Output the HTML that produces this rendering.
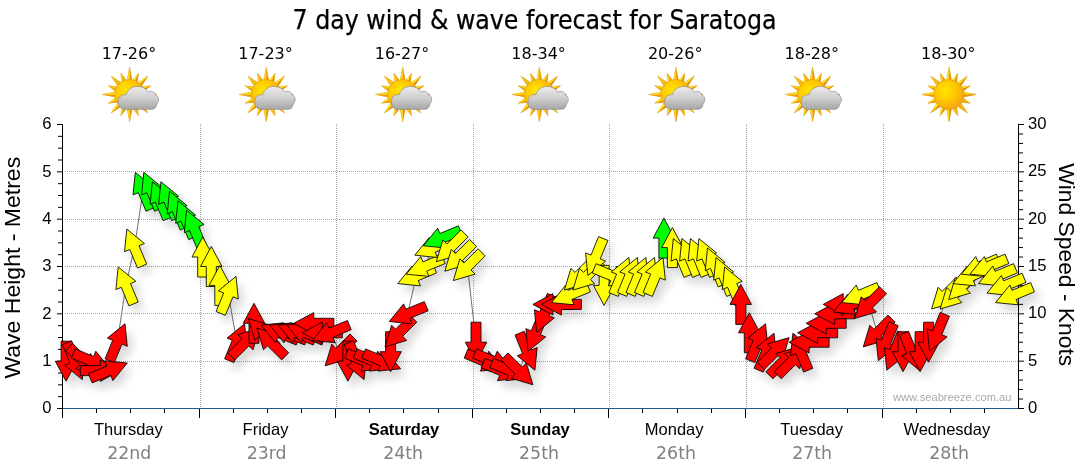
<!DOCTYPE html>
<html lang="en"><head><meta charset="utf-8"><title>7 day wind &amp; wave forecast for Saratoga</title>
<style>html,body{margin:0;padding:0;background:#fff;}body{width:1080px;height:475px;overflow:hidden;}svg{display:block;}.tah{font-family:"DejaVu Sans Condensed","DejaVu Sans","Liberation Sans",sans-serif;}.ver{font-family:"DejaVu Sans","Liberation Sans",sans-serif;}.ari{font-family:"Liberation Sans",Arial,sans-serif;}</style></head><body>
<svg width="1080" height="475" viewBox="0 0 1080 475">
<defs>
<filter id="sh" x="-5%" y="-10%" width="110%" height="125%"><feGaussianBlur in="SourceAlpha" stdDeviation="5"/><feOffset dx="5" dy="7" result="b"/><feComponentTransfer><feFuncA type="linear" slope="0.16"/></feComponentTransfer><feMerge><feMergeNode/><feMergeNode in="SourceGraphic"/></feMerge></filter>
<radialGradient id="sunG" cx="0.38" cy="0.36" r="0.75"><stop offset="0" stop-color="#ffe600"/><stop offset="0.45" stop-color="#ffc800"/><stop offset="1" stop-color="#f39a1a"/></radialGradient>
<linearGradient id="rayG" x1="0" y1="0" x2="1" y2="1"><stop offset="0" stop-color="#ffe81a"/><stop offset="0.5" stop-color="#fcc414"/><stop offset="1" stop-color="#ee8c14"/></linearGradient>
<linearGradient id="cloudG" x1="0" y1="0" x2="0" y2="1"><stop offset="0" stop-color="#ececec"/><stop offset="0.5" stop-color="#cfcfcf"/><stop offset="1" stop-color="#a6a6a6"/></linearGradient>
<g id="sun"><path d="M-2.68,-13.23 L0.00,-27.30 L2.68,-13.23 L2.59,-13.25 L8.80,-21.25 L7.54,-11.20 L7.46,-11.25 L18.38,-18.38 L11.25,-7.46 L11.20,-7.54 L21.25,-8.80 L13.25,-2.59 L13.23,-2.68 L27.30,0.00 L13.23,2.68 L13.25,2.59 L21.25,8.80 L11.20,7.54 L11.25,7.46 L18.38,18.38 L7.46,11.25 L7.54,11.20 L8.80,21.25 L2.59,13.25 L2.68,13.23 L0.00,27.30 L-2.68,13.23 L-2.59,13.25 L-8.80,21.25 L-7.54,11.20 L-7.46,11.25 L-18.38,18.38 L-11.25,7.46 L-11.20,7.54 L-21.25,8.80 L-13.25,2.59 L-13.23,2.68 L-27.30,0.00 L-13.23,-2.68 L-13.25,-2.59 L-21.25,-8.80 L-11.20,-7.54 L-11.25,-7.46 L-18.38,-18.38 L-7.46,-11.25 L-7.54,-11.20 L-8.80,-21.25 L-2.59,-13.25Z" fill="url(#rayG)" stroke="#d9960f" stroke-width="0.5" stroke-linejoin="miter"/><polygon points="-2.68,-13.23 0.00,-27.30 0.00,-12.15" fill="#fbda1a"/><polygon points="2.68,-13.23 0.00,-27.30 0.00,-12.15" fill="#ea9812"/><polygon points="2.59,-13.25 8.80,-21.25 4.65,-11.23" fill="#fee41c"/><polygon points="7.54,-11.20 8.80,-21.25 4.65,-11.23" fill="#e78e10"/><polygon points="7.46,-11.25 18.38,-18.38 8.59,-8.59" fill="#ffe81c"/><polygon points="11.25,-7.46 18.38,-18.38 8.59,-8.59" fill="#e68a10"/><polygon points="11.20,-7.54 21.25,-8.80 11.23,-4.65" fill="#fee41c"/><polygon points="13.25,-2.59 21.25,-8.80 11.23,-4.65" fill="#e78e10"/><polygon points="13.23,-2.68 27.30,0.00 12.15,0.00" fill="#fbda1a"/><polygon points="13.23,2.68 27.30,0.00 12.15,0.00" fill="#ea9812"/><polygon points="13.25,2.59 21.25,8.80 11.23,4.65" fill="#f7cb18"/><polygon points="11.20,7.54 21.25,8.80 11.23,4.65" fill="#eea714"/><polygon points="11.25,7.46 18.38,18.38 8.59,8.59" fill="#f2b916"/><polygon points="7.46,11.25 18.38,18.38 8.59,8.59" fill="#f2b916"/><polygon points="7.54,11.20 8.80,21.25 4.65,11.23" fill="#eea714"/><polygon points="2.59,13.25 8.80,21.25 4.65,11.23" fill="#f7cb18"/><polygon points="2.68,13.23 0.00,27.30 0.00,12.15" fill="#ea9812"/><polygon points="-2.68,13.23 0.00,27.30 0.00,12.15" fill="#fbda1a"/><polygon points="-2.59,13.25 -8.80,21.25 -4.65,11.23" fill="#e78e10"/><polygon points="-7.54,11.20 -8.80,21.25 -4.65,11.23" fill="#fee41c"/><polygon points="-7.46,11.25 -18.38,18.38 -8.59,8.59" fill="#e68a10"/><polygon points="-11.25,7.46 -18.38,18.38 -8.59,8.59" fill="#ffe81c"/><polygon points="-11.20,7.54 -21.25,8.80 -11.23,4.65" fill="#e78e10"/><polygon points="-13.25,2.59 -21.25,8.80 -11.23,4.65" fill="#fee41c"/><polygon points="-13.23,2.68 -27.30,0.00 -12.15,0.00" fill="#ea9812"/><polygon points="-13.23,-2.68 -27.30,0.00 -12.15,0.00" fill="#fbda1a"/><polygon points="-13.25,-2.59 -21.25,-8.80 -11.23,-4.65" fill="#eea714"/><polygon points="-11.20,-7.54 -21.25,-8.80 -11.23,-4.65" fill="#f7cb18"/><polygon points="-11.25,-7.46 -18.38,-18.38 -8.59,-8.59" fill="#f2b916"/><polygon points="-7.46,-11.25 -18.38,-18.38 -8.59,-8.59" fill="#f2b916"/><polygon points="-7.54,-11.20 -8.80,-21.25 -4.65,-11.23" fill="#f7cb18"/><polygon points="-2.59,-13.25 -8.80,-21.25 -4.65,-11.23" fill="#eea714"/><circle r="15" fill="url(#sunG)" stroke="#e09a12" stroke-width="0.6"/></g>
<g id="cloud"><path d="M-5,14.8 C-9.5,14.8 -11.8,11 -11.1,6.5 C-11.5,2.5 -8,-0.5 -3.5,0.3 C-2.5,-5 3,-8.3 8.2,-8.1 C12.5,-8 16.5,-6 18.4,-2.4 C21,-4 25.5,-3 26,0.5 C29.5,1.5 30,7 27,9.5 C27,12.5 25,14.8 22,14.8 Z" fill="url(#cloudG)" stroke="#8e8e8e" stroke-width="0.7"/></g>
</defs>
<rect width="1080" height="475" fill="#fff"/>
<text class="tah" x="534.6" y="29.4" font-size="26.67" text-anchor="middle" textLength="484" lengthAdjust="spacingAndGlyphs" fill="#000" stroke="#000" stroke-width="0.25">7 day wind &amp; wave forecast for Saratoga</text>
<text class="ver" x="128.9" y="58.8" font-size="16" text-anchor="middle" fill="#000">17-26°</text>
<use href="#sun" x="129.6" y="94.5"/>
<use href="#cloud" x="129.6" y="94.5"/>
<text class="ver" x="265.5" y="58.8" font-size="16" text-anchor="middle" fill="#000">17-23°</text>
<use href="#sun" x="266.2" y="94.5"/>
<use href="#cloud" x="266.2" y="94.5"/>
<text class="ver" x="402.0" y="58.8" font-size="16" text-anchor="middle" fill="#000">16-27°</text>
<use href="#sun" x="402.7" y="94.5"/>
<use href="#cloud" x="402.7" y="94.5"/>
<text class="ver" x="538.6" y="58.8" font-size="16" text-anchor="middle" fill="#000">18-34°</text>
<use href="#sun" x="539.3" y="94.5"/>
<use href="#cloud" x="539.3" y="94.5"/>
<text class="ver" x="675.2" y="58.8" font-size="16" text-anchor="middle" fill="#000">20-26°</text>
<use href="#sun" x="675.9" y="94.5"/>
<use href="#cloud" x="675.9" y="94.5"/>
<text class="ver" x="811.8" y="58.8" font-size="16" text-anchor="middle" fill="#000">18-28°</text>
<use href="#sun" x="812.5" y="94.5"/>
<use href="#cloud" x="812.5" y="94.5"/>
<text class="ver" x="948.3" y="58.8" font-size="16" text-anchor="middle" fill="#000">18-30°</text>
<use href="#sun" x="949.0" y="94.5"/>
<g stroke="#a4a4a4" stroke-width="1" stroke-dasharray="1 1" shape-rendering="crispEdges"><line x1="65" y1="361.5" x2="1018" y2="361.5"/><line x1="65" y1="313.5" x2="1018" y2="313.5"/><line x1="65" y1="266.5" x2="1018" y2="266.5"/><line x1="65" y1="219.5" x2="1018" y2="219.5"/><line x1="65" y1="171.5" x2="1018" y2="171.5"/><line x1="200.5" y1="124" x2="200.5" y2="408"/><line x1="336.5" y1="124" x2="336.5" y2="408"/><line x1="473.5" y1="124" x2="473.5" y2="408"/><line x1="609.5" y1="124" x2="609.5" y2="408"/><line x1="746.5" y1="124" x2="746.5" y2="408"/><line x1="883.5" y1="124" x2="883.5" y2="408"/></g>
<polyline fill="none" stroke="#727272" stroke-width="1" points="66.1,361.2 74.6,361.2 83.2,361.2 91.7,361.2 100.3,370.6 108.8,370.6 117.3,342.2 125.9,285.4 134.4,247.6 143.0,190.8 151.5,190.8 160.0,200.2 168.6,200.2 177.1,209.7 185.7,219.2 194.2,228.6 202.7,257.0 211.3,266.5 219.8,285.4 228.4,294.9 236.9,342.2 245.4,342.2 254.0,323.3 262.5,332.8 271.1,342.2 279.6,332.8 288.1,332.8 296.7,332.8 305.2,332.8 313.8,323.3 322.3,332.8 330.8,332.8 339.4,351.7 347.9,361.2 356.5,361.2 365.0,361.2 373.5,361.2 382.1,361.2 390.6,351.7 399.2,332.8 407.7,313.8 416.2,276.0 424.8,266.5 433.3,247.6 441.9,238.1 450.4,247.6 458.9,257.0 467.5,266.5 476.0,342.2 484.6,361.2 493.1,361.2 501.6,370.6 510.2,370.6 518.7,370.6 527.3,351.7 535.8,332.8 544.3,313.8 552.9,304.4 561.4,304.4 570.0,294.9 578.5,276.0 587.0,276.0 595.6,257.0 604.1,285.4 612.7,276.0 621.2,276.0 629.7,276.0 638.3,276.0 646.8,276.0 655.4,276.0 663.9,238.1 672.4,247.6 681.0,257.0 689.5,257.0 698.1,257.0 706.6,257.0 715.1,266.5 723.7,276.0 732.2,285.4 740.8,304.4 749.3,332.8 757.8,342.2 766.4,351.7 774.9,351.7 783.5,361.2 792.0,361.2 800.5,351.7 809.1,342.2 817.6,332.8 826.2,323.3 834.7,313.8 843.2,304.4 851.8,304.4 860.3,294.9 868.9,304.4 877.4,332.8 885.9,342.2 894.5,351.7 903.0,351.7 911.6,351.7 920.1,351.7 928.6,342.2 937.2,332.8 945.7,294.9 954.3,294.9 962.8,285.4 971.3,276.0 979.9,266.5 988.4,266.5 997.0,276.0 1005.5,285.4 1014.0,294.9"/>
<text class="ari" x="893" y="401" font-size="11" fill="#aaaaaa" textLength="118.5" lengthAdjust="spacingAndGlyphs">www.seabreeze.com.au</text>
<g stroke="#000" stroke-width="1"><line x1="62.5" y1="124" x2="62.5" y2="418"/><line x1="1018.5" y1="124" x2="1018.5" y2="409"/><line x1="57" y1="408.50" x2="62" y2="408.50"/><line x1="58" y1="396.67" x2="62" y2="396.67"/><line x1="58" y1="384.83" x2="62" y2="384.83"/><line x1="58" y1="373.00" x2="62" y2="373.00"/><line x1="57" y1="361.17" x2="62" y2="361.17"/><line x1="58" y1="349.33" x2="62" y2="349.33"/><line x1="58" y1="337.50" x2="62" y2="337.50"/><line x1="58" y1="325.67" x2="62" y2="325.67"/><line x1="57" y1="313.83" x2="62" y2="313.83"/><line x1="58" y1="302.00" x2="62" y2="302.00"/><line x1="58" y1="290.17" x2="62" y2="290.17"/><line x1="58" y1="278.33" x2="62" y2="278.33"/><line x1="57" y1="266.50" x2="62" y2="266.50"/><line x1="58" y1="254.67" x2="62" y2="254.67"/><line x1="58" y1="242.83" x2="62" y2="242.83"/><line x1="58" y1="231.00" x2="62" y2="231.00"/><line x1="57" y1="219.17" x2="62" y2="219.17"/><line x1="58" y1="207.33" x2="62" y2="207.33"/><line x1="58" y1="195.50" x2="62" y2="195.50"/><line x1="58" y1="183.67" x2="62" y2="183.67"/><line x1="57" y1="171.83" x2="62" y2="171.83"/><line x1="58" y1="160.00" x2="62" y2="160.00"/><line x1="58" y1="148.17" x2="62" y2="148.17"/><line x1="58" y1="136.33" x2="62" y2="136.33"/><line x1="57" y1="124.50" x2="62" y2="124.50"/><line x1="1019" y1="408.50" x2="1024" y2="408.50"/><line x1="1019" y1="399.03" x2="1023" y2="399.03"/><line x1="1019" y1="389.57" x2="1023" y2="389.57"/><line x1="1019" y1="380.10" x2="1023" y2="380.10"/><line x1="1019" y1="370.63" x2="1023" y2="370.63"/><line x1="1019" y1="361.17" x2="1024" y2="361.17"/><line x1="1019" y1="351.70" x2="1023" y2="351.70"/><line x1="1019" y1="342.23" x2="1023" y2="342.23"/><line x1="1019" y1="332.77" x2="1023" y2="332.77"/><line x1="1019" y1="323.30" x2="1023" y2="323.30"/><line x1="1019" y1="313.83" x2="1024" y2="313.83"/><line x1="1019" y1="304.37" x2="1023" y2="304.37"/><line x1="1019" y1="294.90" x2="1023" y2="294.90"/><line x1="1019" y1="285.43" x2="1023" y2="285.43"/><line x1="1019" y1="275.97" x2="1023" y2="275.97"/><line x1="1019" y1="266.50" x2="1024" y2="266.50"/><line x1="1019" y1="257.03" x2="1023" y2="257.03"/><line x1="1019" y1="247.57" x2="1023" y2="247.57"/><line x1="1019" y1="238.10" x2="1023" y2="238.10"/><line x1="1019" y1="228.63" x2="1023" y2="228.63"/><line x1="1019" y1="219.17" x2="1024" y2="219.17"/><line x1="1019" y1="209.70" x2="1023" y2="209.70"/><line x1="1019" y1="200.23" x2="1023" y2="200.23"/><line x1="1019" y1="190.77" x2="1023" y2="190.77"/><line x1="1019" y1="181.30" x2="1023" y2="181.30"/><line x1="1019" y1="171.83" x2="1024" y2="171.83"/><line x1="1019" y1="162.37" x2="1023" y2="162.37"/><line x1="1019" y1="152.90" x2="1023" y2="152.90"/><line x1="1019" y1="143.43" x2="1023" y2="143.43"/><line x1="1019" y1="133.97" x2="1023" y2="133.97"/><line x1="1019" y1="124.50" x2="1024" y2="124.50"/><line x1="62.5" y1="409" x2="62.5" y2="418"/><line x1="96.5" y1="409" x2="96.5" y2="413"/><line x1="130.5" y1="409" x2="130.5" y2="413"/><line x1="164.5" y1="409" x2="164.5" y2="413"/><line x1="199.5" y1="409" x2="199.5" y2="418"/><line x1="233.5" y1="409" x2="233.5" y2="413"/><line x1="267.5" y1="409" x2="267.5" y2="413"/><line x1="301.5" y1="409" x2="301.5" y2="413"/><line x1="335.5" y1="409" x2="335.5" y2="418"/><line x1="369.5" y1="409" x2="369.5" y2="413"/><line x1="403.5" y1="409" x2="403.5" y2="413"/><line x1="438.5" y1="409" x2="438.5" y2="413"/><line x1="472.5" y1="409" x2="472.5" y2="418"/><line x1="506.5" y1="409" x2="506.5" y2="413"/><line x1="540.5" y1="409" x2="540.5" y2="413"/><line x1="574.5" y1="409" x2="574.5" y2="413"/><line x1="608.5" y1="409" x2="608.5" y2="418"/><line x1="642.5" y1="409" x2="642.5" y2="413"/><line x1="677.5" y1="409" x2="677.5" y2="413"/><line x1="711.5" y1="409" x2="711.5" y2="413"/><line x1="745.5" y1="409" x2="745.5" y2="418"/><line x1="779.5" y1="409" x2="779.5" y2="413"/><line x1="813.5" y1="409" x2="813.5" y2="413"/><line x1="847.5" y1="409" x2="847.5" y2="413"/><line x1="882.5" y1="409" x2="882.5" y2="418"/><line x1="916.5" y1="409" x2="916.5" y2="413"/><line x1="950.5" y1="409" x2="950.5" y2="413"/><line x1="984.5" y1="409" x2="984.5" y2="413"/></g>
<line x1="63" y1="408.5" x2="1018" y2="408.5" stroke="#1d5a8e" stroke-width="1.2"/>
<text class="ari" x="51.6" y="413.3" font-size="16.67" text-anchor="end" fill="#000">0</text>
<text class="ari" x="51.6" y="366.0" font-size="16.67" text-anchor="end" fill="#000">1</text>
<text class="ari" x="51.6" y="318.6" font-size="16.67" text-anchor="end" fill="#000">2</text>
<text class="ari" x="51.6" y="271.3" font-size="16.67" text-anchor="end" fill="#000">3</text>
<text class="ari" x="51.6" y="224.0" font-size="16.67" text-anchor="end" fill="#000">4</text>
<text class="ari" x="51.6" y="176.6" font-size="16.67" text-anchor="end" fill="#000">5</text>
<text class="ari" x="51.6" y="129.3" font-size="16.67" text-anchor="end" fill="#000">6</text>
<text class="ari" x="1028" y="413.1" font-size="16.67" fill="#000">0</text>
<text class="ari" x="1028" y="365.8" font-size="16.67" fill="#000">5</text>
<text class="ari" x="1028" y="318.4" font-size="16.67" fill="#000">10</text>
<text class="ari" x="1028" y="271.1" font-size="16.67" fill="#000">15</text>
<text class="ari" x="1028" y="223.8" font-size="16.67" fill="#000">20</text>
<text class="ari" x="1028" y="176.4" font-size="16.67" fill="#000">25</text>
<text class="ari" x="1028" y="129.1" font-size="16.67" fill="#000">30</text>
<text class="ari" transform="translate(20.3,378.6) rotate(-90)" font-size="22" textLength="221.8" lengthAdjust="spacingAndGlyphs" fill="#000">Wave Height - Metres</text>
<text class="ari" transform="translate(1059.2,163.2) rotate(90)" font-size="22" textLength="203" lengthAdjust="spacingAndGlyphs" fill="#000">Wind Speed - Knots</text>
<text class="ari" x="128.4" y="434.9" font-size="16.5" text-anchor="middle" fill="#000">Thursday</text>
<text class="ver" x="129.3" y="458.7" font-size="17.33" text-anchor="middle" fill="#808080">22nd</text>
<text class="ari" x="265.5" y="434.9" font-size="16.5" text-anchor="middle" fill="#000">Friday</text>
<text class="ver" x="266.6" y="458.7" font-size="17.33" text-anchor="middle" fill="#808080">23rd</text>
<text class="ari" x="404.0" y="434.9" font-size="16.5" text-anchor="middle" font-weight="bold" fill="#000">Saturday</text>
<text class="ver" x="403.2" y="458.7" font-size="17.33" text-anchor="middle" fill="#808080">24th</text>
<text class="ari" x="540.0" y="434.9" font-size="16.5" text-anchor="middle" font-weight="bold" fill="#000">Sunday</text>
<text class="ver" x="539.0" y="458.7" font-size="17.33" text-anchor="middle" fill="#808080">25th</text>
<text class="ari" x="674.2" y="434.9" font-size="16.5" text-anchor="middle" fill="#000">Monday</text>
<text class="ver" x="676.0" y="458.7" font-size="17.33" text-anchor="middle" fill="#808080">26th</text>
<text class="ari" x="811.7" y="434.9" font-size="16.5" text-anchor="middle" fill="#000">Tuesday</text>
<text class="ver" x="812.2" y="458.7" font-size="17.33" text-anchor="middle" fill="#808080">27th</text>
<text class="ari" x="946.8" y="434.9" font-size="16.5" text-anchor="middle" fill="#000">Wednesday</text>
<text class="ver" x="949.2" y="458.7" font-size="17.33" text-anchor="middle" fill="#808080">28th</text>
<g filter="url(#sh)" stroke="#000" stroke-width="0.85" stroke-linejoin="miter">
<polygon fill="#ff0000" points="66.1,381.2 55.3,361.2 61.1,361.2 61.1,341.2 71.1,341.2 71.1,361.2 76.8,361.2"/>
<polygon fill="#ff0000" points="82.3,379.6 64.7,365.3 70.0,363.1 62.4,344.6 71.6,340.8 79.3,359.3 84.6,357.1"/>
<polygon fill="#ff0000" points="97.3,375.3 75.6,368.8 79.6,364.7 65.5,350.6 72.6,343.5 86.7,357.6 90.8,353.6"/>
<polygon fill="#ff0000" points="110.2,368.8 87.6,371.1 89.8,365.8 71.3,358.1 75.2,348.9 93.6,356.5 95.8,351.2"/>
<polygon fill="#ff0000" points="120.3,370.6 100.3,381.4 100.3,375.6 80.3,375.6 80.3,365.6 100.3,365.6 100.3,359.9"/>
<polygon fill="#ff0000" points="127.3,363.0 112.9,380.6 110.7,375.3 92.2,382.9 88.4,373.7 106.9,366.0 104.7,360.7"/>
<polygon fill="#ff0000" points="125.0,323.8 127.3,346.3 122.0,344.1 114.3,362.6 105.1,358.8 112.7,340.3 107.4,338.1"/>
<polygon fill="#ffff00" points="118.2,267.0 135.8,281.3 130.5,283.5 138.2,302.0 128.9,305.8 121.3,287.3 115.9,289.5"/>
<polygon fill="#ffff00" points="126.8,229.1 144.4,243.5 139.0,245.7 146.7,264.1 137.5,268.0 129.8,249.5 124.5,251.7"/>
<polygon fill="#00ff00" points="135.3,172.3 152.9,186.7 147.6,188.9 155.2,207.3 146.0,211.2 138.3,192.7 133.0,194.9"/>
<polygon fill="#00ff00" points="143.8,172.3 161.4,186.7 156.1,188.9 163.8,207.3 154.5,211.2 146.9,192.7 141.6,194.9"/>
<polygon fill="#00ff00" points="152.4,181.8 170.0,196.1 164.7,198.3 172.3,216.8 163.1,220.6 155.4,202.1 150.1,204.3"/>
<polygon fill="#00ff00" points="160.9,181.8 178.5,196.1 173.2,198.3 180.9,216.8 171.6,220.6 164.0,202.1 158.6,204.3"/>
<polygon fill="#00ff00" points="169.5,191.2 187.1,205.6 181.7,207.8 189.4,226.3 180.2,230.1 172.5,211.6 167.2,213.8"/>
<polygon fill="#00ff00" points="178.0,200.7 195.6,215.1 190.3,217.3 197.9,235.7 188.7,239.6 181.0,221.1 175.7,223.3"/>
<polygon fill="#00ff00" points="186.5,210.2 204.1,224.5 198.8,226.7 206.5,245.2 197.2,249.0 189.6,230.5 184.3,232.7"/>
<polygon fill="#ffff00" points="202.7,237.0 213.5,257.0 207.7,257.0 207.7,277.0 197.7,277.0 197.7,257.0 192.0,257.0"/>
<polygon fill="#ffff00" points="211.3,246.5 222.0,266.5 216.3,266.5 216.3,286.5 206.3,286.5 206.3,266.5 200.5,266.5"/>
<polygon fill="#ffff00" points="219.8,265.4 230.6,285.4 224.8,285.4 224.8,305.4 214.8,305.4 214.8,285.4 209.1,285.4"/>
<polygon fill="#ffff00" points="236.0,276.4 238.3,299.0 233.0,296.8 225.3,315.3 216.1,311.5 223.7,293.0 218.4,290.8"/>
<polygon fill="#ff0000" points="244.6,323.8 246.8,346.3 241.5,344.1 233.9,362.6 224.6,358.8 232.3,340.3 227.0,338.1"/>
<polygon fill="#ff0000" points="259.6,328.1 253.0,349.8 249.0,345.8 234.8,359.9 227.8,352.8 241.9,338.7 237.8,334.6"/>
<polygon fill="#ff0000" points="254.0,303.3 264.7,323.3 259.0,323.3 259.0,343.3 249.0,343.3 249.0,323.3 243.2,323.3"/>
<polygon fill="#ff0000" points="248.4,318.6 270.1,325.2 266.1,329.2 280.2,343.4 273.1,350.4 259.0,336.3 254.9,340.4"/>
<polygon fill="#ff0000" points="256.9,328.1 278.7,334.6 274.6,338.7 288.7,352.8 281.7,359.9 267.5,345.8 263.5,349.8"/>
<polygon fill="#ff0000" points="261.1,325.1 283.7,322.8 281.5,328.1 300.0,335.8 296.2,345.0 277.7,337.4 275.5,342.7"/>
<polygon fill="#ff0000" points="269.7,325.1 292.3,322.8 290.1,328.1 308.5,335.8 304.7,345.0 286.2,337.4 284.0,342.7"/>
<polygon fill="#ff0000" points="278.2,325.1 300.8,322.8 298.6,328.1 317.1,335.8 313.2,345.0 294.8,337.4 292.6,342.7"/>
<polygon fill="#ff0000" points="286.7,325.1 309.3,322.8 307.1,328.1 325.6,335.8 321.8,345.0 303.3,337.4 301.1,342.7"/>
<polygon fill="#ff0000" points="293.8,323.3 313.8,312.6 313.8,318.3 333.8,318.3 333.8,328.3 313.8,328.3 313.8,334.1"/>
<polygon fill="#ff0000" points="302.3,332.8 322.3,322.0 322.3,327.8 342.3,327.8 342.3,337.8 322.3,337.8 322.3,343.5"/>
<polygon fill="#ff0000" points="312.4,340.4 326.7,322.8 328.9,328.1 347.4,320.5 351.2,329.7 332.8,337.4 335.0,342.7"/>
<polygon fill="#ff0000" points="325.2,365.8 331.8,344.1 335.8,348.2 350.0,334.0 357.1,341.1 342.9,355.2 347.0,359.3"/>
<polygon fill="#ff0000" points="347.9,381.2 337.2,361.2 342.9,361.2 342.9,341.2 352.9,341.2 352.9,361.2 358.7,361.2"/>
<polygon fill="#ff0000" points="364.1,379.6 346.5,365.3 351.8,363.1 344.2,344.6 353.4,340.8 361.1,359.3 366.4,357.1"/>
<polygon fill="#ff0000" points="383.5,368.8 360.9,371.1 363.1,365.8 344.6,358.1 348.4,348.9 366.9,356.5 369.1,351.2"/>
<polygon fill="#ff0000" points="392.0,368.8 369.4,371.1 371.6,365.8 353.1,358.1 357.0,348.9 375.5,356.5 377.7,351.2"/>
<polygon fill="#ff0000" points="400.6,368.8 378.0,371.1 380.2,365.8 361.7,358.1 365.5,348.9 384.0,356.5 386.2,351.2"/>
<polygon fill="#ff0000" points="390.6,371.7 379.9,351.7 385.6,351.7 385.6,331.7 395.6,331.7 395.6,351.7 401.4,351.7"/>
<polygon fill="#ff0000" points="385.0,346.9 391.6,325.2 395.6,329.2 409.8,315.1 416.8,322.2 402.7,336.3 406.8,340.4"/>
<polygon fill="#ff0000" points="389.2,321.5 403.6,303.9 405.8,309.2 424.3,301.6 428.1,310.8 409.6,318.5 411.8,323.8"/>
<polygon fill="#ffff00" points="397.8,283.6 412.1,266.0 414.3,271.3 432.8,263.7 436.6,272.9 418.2,280.6 420.4,285.9"/>
<polygon fill="#ffff00" points="406.3,274.2 420.7,256.6 422.9,261.9 441.3,254.2 445.2,263.5 426.7,271.1 428.9,276.4"/>
<polygon fill="#ffff00" points="414.8,255.2 429.2,237.6 431.4,242.9 449.9,235.3 453.7,244.5 435.2,252.2 437.4,257.5"/>
<polygon fill="#00ff00" points="423.4,245.8 437.7,228.2 439.9,233.5 458.4,225.8 462.3,235.1 443.8,242.7 446.0,248.0"/>
<polygon fill="#ffff00" points="436.3,261.7 442.8,240.0 446.9,244.0 461.0,229.9 468.1,237.0 453.9,251.1 458.0,255.2"/>
<polygon fill="#ffff00" points="444.8,271.2 451.3,249.4 455.4,253.5 469.5,239.4 476.6,246.4 462.5,260.6 466.5,264.6"/>
<polygon fill="#ffff00" points="453.3,280.6 459.9,258.9 463.9,263.0 478.1,248.8 485.2,255.9 471.0,270.0 475.1,274.1"/>
<polygon fill="#ff0000" points="476.0,362.2 465.3,342.2 471.0,342.2 471.0,322.2 481.0,322.2 481.0,342.2 486.8,342.2"/>
<polygon fill="#ff0000" points="503.0,368.8 480.4,371.1 482.6,365.8 464.2,358.1 468.0,348.9 486.5,356.5 488.7,351.2"/>
<polygon fill="#ff0000" points="511.6,368.8 489.0,371.1 491.2,365.8 472.7,358.1 476.5,348.9 495.0,356.5 497.2,351.2"/>
<polygon fill="#ff0000" points="520.1,378.3 497.5,380.6 499.7,375.3 481.2,367.6 485.1,358.4 503.6,366.0 505.8,360.7"/>
<polygon fill="#ff0000" points="528.7,378.3 506.1,380.6 508.3,375.3 489.8,367.6 493.6,358.4 512.1,366.0 514.3,360.7"/>
<polygon fill="#ff0000" points="532.9,384.8 511.1,378.2 515.2,374.2 501.0,360.0 508.1,353.0 522.3,367.1 526.3,363.0"/>
<polygon fill="#ff0000" points="534.9,370.2 517.3,355.8 522.6,353.6 515.0,335.1 524.2,331.3 531.9,349.8 537.2,347.6"/>
<polygon fill="#ff0000" points="528.1,351.2 525.9,328.7 531.2,330.9 538.8,312.4 548.1,316.2 540.4,334.7 545.7,336.9"/>
<polygon fill="#ff0000" points="536.7,332.3 534.4,309.7 539.7,311.9 547.4,293.4 556.6,297.3 549.0,315.7 554.3,317.9"/>
<polygon fill="#ff0000" points="532.9,304.4 552.9,293.6 552.9,299.4 572.9,299.4 572.9,309.4 552.9,309.4 552.9,315.1"/>
<polygon fill="#ff0000" points="541.4,304.4 561.4,293.6 561.4,299.4 581.4,299.4 581.4,309.4 561.4,309.4 561.4,315.1"/>
<polygon fill="#ffff00" points="551.5,302.6 565.8,285.0 568.0,290.3 586.5,282.6 590.4,291.9 571.9,299.5 574.1,304.8"/>
<polygon fill="#ffff00" points="564.4,290.1 570.9,268.4 575.0,272.4 589.1,258.3 596.2,265.4 582.0,279.5 586.1,283.6"/>
<polygon fill="#ffff00" points="572.9,290.1 579.4,268.4 583.5,272.4 597.6,258.3 604.7,265.4 590.6,279.5 594.6,283.6"/>
<polygon fill="#ffff00" points="587.9,275.5 585.6,252.9 591.0,255.1 598.6,236.6 607.9,240.5 600.2,258.9 605.5,261.1"/>
<polygon fill="#ffff00" points="604.1,305.4 593.4,285.4 599.1,285.4 599.1,265.4 609.1,265.4 609.1,285.4 614.9,285.4"/>
<polygon fill="#ffff00" points="631.1,283.6 608.5,285.9 610.7,280.6 592.3,272.9 596.1,263.7 614.6,271.3 616.8,266.0"/>
<polygon fill="#ffff00" points="628.9,257.5 631.1,280.1 625.8,277.9 618.2,296.4 608.9,292.5 616.6,274.1 611.3,271.9"/>
<polygon fill="#ffff00" points="637.4,257.5 639.7,280.1 634.4,277.9 626.7,296.4 617.5,292.5 625.1,274.1 619.8,271.9"/>
<polygon fill="#ffff00" points="645.9,257.5 648.2,280.1 642.9,277.9 635.2,296.4 626.0,292.5 633.7,274.1 628.3,271.9"/>
<polygon fill="#ffff00" points="654.5,257.5 656.8,280.1 651.4,277.9 643.8,296.4 634.5,292.5 642.2,274.1 636.9,271.9"/>
<polygon fill="#ffff00" points="663.0,257.5 665.3,280.1 660.0,277.9 652.3,296.4 643.1,292.5 650.7,274.1 645.4,271.9"/>
<polygon fill="#00ff00" points="663.9,218.1 674.6,238.1 668.9,238.1 668.9,258.1 658.9,258.1 658.9,238.1 653.1,238.1"/>
<polygon fill="#ffff00" points="672.4,227.6 683.2,247.6 677.4,247.6 677.4,267.6 667.4,267.6 667.4,247.6 661.7,247.6"/>
<polygon fill="#ffff00" points="673.3,238.6 690.9,252.9 685.6,255.1 693.3,273.6 684.0,277.4 676.4,258.9 671.0,261.1"/>
<polygon fill="#ffff00" points="681.9,238.6 699.5,252.9 694.1,255.1 701.8,273.6 692.6,277.4 684.9,258.9 679.6,261.1"/>
<polygon fill="#ffff00" points="690.4,238.6 708.0,252.9 702.7,255.1 710.3,273.6 701.1,277.4 693.4,258.9 688.1,261.1"/>
<polygon fill="#ffff00" points="698.9,238.6 716.5,252.9 711.2,255.1 718.9,273.6 709.6,277.4 702.0,258.9 696.7,261.1"/>
<polygon fill="#ffff00" points="707.5,248.0 725.1,262.4 719.8,264.6 727.4,283.1 718.2,286.9 710.5,268.4 705.2,270.6"/>
<polygon fill="#ffff00" points="716.0,257.5 733.6,271.9 728.3,274.1 736.0,292.5 726.7,296.4 719.1,277.9 713.7,280.1"/>
<polygon fill="#ffff00" points="724.6,267.0 742.2,281.3 736.8,283.5 744.5,302.0 735.3,305.8 727.6,287.3 722.3,289.5"/>
<polygon fill="#ff0000" points="740.8,284.4 751.5,304.4 745.8,304.4 745.8,324.4 735.8,324.4 735.8,304.4 730.0,304.4"/>
<polygon fill="#ff0000" points="749.3,312.8 760.0,332.8 754.3,332.8 754.3,352.8 744.3,352.8 744.3,332.8 738.5,332.8"/>
<polygon fill="#ff0000" points="765.5,323.8 767.8,346.3 762.5,344.1 754.8,362.6 745.6,358.8 753.2,340.3 747.9,338.1"/>
<polygon fill="#ff0000" points="774.0,333.2 776.3,355.8 771.0,353.6 763.3,372.1 754.1,368.3 761.8,349.8 756.4,347.6"/>
<polygon fill="#ff0000" points="789.1,337.6 782.5,359.3 778.5,355.2 764.3,369.4 757.2,362.3 771.4,348.2 767.3,344.1"/>
<polygon fill="#ff0000" points="797.6,347.0 791.1,368.8 787.0,364.7 772.9,378.8 765.8,371.8 779.9,357.6 775.9,353.6"/>
<polygon fill="#ff0000" points="806.1,347.0 799.6,368.8 795.5,364.7 781.4,378.8 774.3,371.8 788.5,357.6 784.4,353.6"/>
<polygon fill="#ff0000" points="792.9,333.2 810.5,347.6 805.2,349.8 812.8,368.3 803.6,372.1 795.9,353.6 790.6,355.8"/>
<polygon fill="#ff0000" points="789.1,342.2 809.1,331.5 809.1,337.2 829.1,337.2 829.1,347.2 809.1,347.2 809.1,353.0"/>
<polygon fill="#ff0000" points="797.6,332.8 817.6,322.0 817.6,327.8 837.6,327.8 837.6,337.8 817.6,337.8 817.6,343.5"/>
<polygon fill="#ff0000" points="806.2,323.3 826.2,312.6 826.2,318.3 846.2,318.3 846.2,328.3 826.2,328.3 826.2,334.1"/>
<polygon fill="#ff0000" points="814.7,313.8 834.7,303.1 834.7,308.8 854.7,308.8 854.7,318.8 834.7,318.8 834.7,324.6"/>
<polygon fill="#ff0000" points="823.2,304.4 843.2,293.6 843.2,299.4 863.2,299.4 863.2,309.4 843.2,309.4 843.2,315.1"/>
<polygon fill="#ff0000" points="833.3,312.0 847.7,294.4 849.9,299.7 868.3,292.1 872.2,301.3 853.7,309.0 855.9,314.3"/>
<polygon fill="#ffff00" points="841.8,302.6 856.2,285.0 858.4,290.3 876.9,282.6 880.7,291.9 862.2,299.5 864.4,304.8"/>
<polygon fill="#ff0000" points="854.7,318.5 861.3,296.8 865.3,300.8 879.5,286.7 886.5,293.8 872.4,307.9 876.5,312.0"/>
<polygon fill="#ff0000" points="863.3,346.9 869.8,325.2 873.9,329.2 888.0,315.1 895.1,322.2 880.9,336.3 885.0,340.4"/>
<polygon fill="#ff0000" points="878.3,360.7 876.0,338.1 881.3,340.3 889.0,321.8 898.2,325.7 890.6,344.1 895.9,346.3"/>
<polygon fill="#ff0000" points="886.8,370.2 884.5,347.6 889.9,349.8 897.5,331.3 906.8,335.1 899.1,353.6 904.4,355.8"/>
<polygon fill="#ff0000" points="903.0,371.7 892.3,351.7 898.0,351.7 898.0,331.7 908.0,331.7 908.0,351.7 913.8,351.7"/>
<polygon fill="#ff0000" points="919.2,370.2 901.6,355.8 906.9,353.6 899.3,335.1 908.5,331.3 916.2,349.8 921.5,347.6"/>
<polygon fill="#ff0000" points="920.1,371.7 909.3,351.7 915.1,351.7 915.1,331.7 925.1,331.7 925.1,351.7 930.8,351.7"/>
<polygon fill="#ff0000" points="928.6,362.2 917.9,342.2 923.6,342.2 923.6,322.2 933.6,322.2 933.6,342.2 939.4,342.2"/>
<polygon fill="#ff0000" points="929.5,351.2 927.2,328.7 932.6,330.9 940.2,312.4 949.5,316.2 941.8,334.7 947.1,336.9"/>
<polygon fill="#ffff00" points="931.6,309.0 938.1,287.3 942.2,291.4 956.3,277.2 963.4,284.3 949.3,298.4 953.3,302.5"/>
<polygon fill="#ffff00" points="940.1,309.0 946.7,287.3 950.7,291.4 964.9,277.2 971.9,284.3 957.8,298.4 961.9,302.5"/>
<polygon fill="#ffff00" points="948.7,299.6 955.2,277.8 959.3,281.9 973.4,267.8 980.5,274.8 966.3,289.0 970.4,293.0"/>
<polygon fill="#ffff00" points="952.9,283.6 967.2,266.0 969.4,271.3 987.9,263.7 991.7,272.9 973.3,280.6 975.5,285.9"/>
<polygon fill="#ffff00" points="961.4,274.2 975.8,256.6 978.0,261.9 996.4,254.2 1000.3,263.5 981.8,271.1 984.0,276.4"/>
<polygon fill="#ffff00" points="969.9,274.2 984.3,256.6 986.5,261.9 1005.0,254.2 1008.8,263.5 990.3,271.1 992.5,276.4"/>
<polygon fill="#ffff00" points="978.5,283.6 992.8,266.0 995.0,271.3 1013.5,263.7 1017.4,272.9 998.9,280.6 1001.1,285.9"/>
<polygon fill="#ffff00" points="987.0,293.1 1001.4,275.5 1003.6,280.8 1022.1,273.2 1025.9,282.4 1007.4,290.1 1009.6,295.4"/>
<polygon fill="#ffff00" points="995.6,302.6 1009.9,285.0 1012.1,290.3 1030.6,282.6 1034.4,291.9 1016.0,299.5 1018.2,304.8"/>
</g>
</svg></body></html>
